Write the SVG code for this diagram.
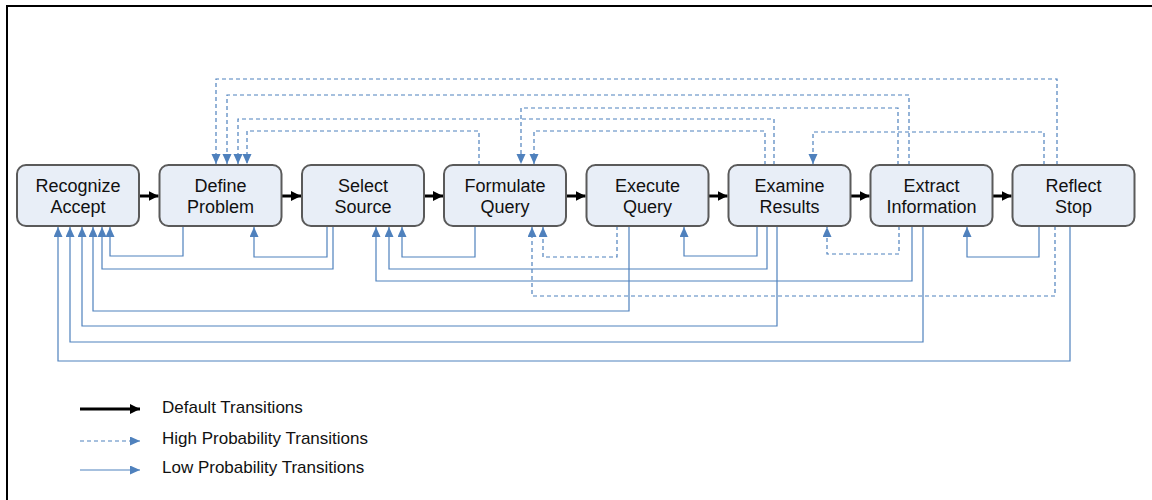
<svg xmlns="http://www.w3.org/2000/svg" width="1152" height="500" viewBox="0 0 1152 500">
<style>
.node rect{fill:#E8EEF7;stroke:#5A5A5A;stroke-width:2}
.node text{font-family:"Liberation Sans",Arial,sans-serif;font-size:18px;fill:#111;text-anchor:middle}
.def{fill:none;stroke:#000;stroke-width:3;marker-end:url(#ab)}
.hi{fill:none;stroke:#4F81BD;stroke-width:1.2;stroke-dasharray:4 3;marker-end:url(#au)}
.lo{fill:none;stroke:#4F81BD;stroke-width:1.2;marker-end:url(#au)}
.leg{font-family:"Liberation Sans",Arial,sans-serif;font-size:17px;fill:#111}
</style>
<defs>
<marker id="ab" markerUnits="userSpaceOnUse" markerWidth="11" markerHeight="11" refX="10" refY="5" orient="auto"><path d="M0,0 L10,5 L0,10 z" fill="#000"/></marker>
<marker id="au" markerUnits="userSpaceOnUse" markerWidth="11" markerHeight="10" refX="10" refY="4.5" orient="auto"><path d="M0,0 L10,4.5 L0,9 z" fill="#4F81BD"/></marker>
</defs>
<rect width="1152" height="500" fill="#fff"/>
<path d="M7,500 V6 H1152" fill="none" stroke="#000" stroke-width="2"/>
<g id="connectors">
<path class="def" d="M139,196 H158.5"/>
<path class="def" d="M281.5,196 H301"/>
<path class="def" d="M424,196 H443"/>
<path class="def" d="M566,196 H585.5"/>
<path class="def" d="M708.5,196 H727.5"/>
<path class="def" d="M850.5,196 H869.5"/>
<path class="def" d="M992.5,196 H1011.5"/>
<path class="hi" d="M1057,165 V79 H216 V164"/>
<path class="hi" d="M909,165 V95 H227 V164"/>
<path class="hi" d="M774,165 V119 H238 V164"/>
<path class="hi" d="M479,165 V131 H247 V164"/>
<path class="hi" d="M898,165 V108 H521 V164"/>
<path class="hi" d="M765,165 V131 H534 V164"/>
<path class="hi" d="M1044,165 V132 H813 V164"/>
<path class="hi" d="M617,226 V257 H543 V227"/>
<path class="hi" d="M1055,226 V296 H532 V227"/>
<path class="hi" d="M899,226 V254 H827 V227"/>
<path class="lo" d="M183,226 V256 H110 V227"/>
<path class="lo" d="M333,226 V269 H102 V227"/>
<path class="lo" d="M629,226 V311 H93 V227"/>
<path class="lo" d="M777,226 V326 H82 V227"/>
<path class="lo" d="M923,226 V342 H70 V227"/>
<path class="lo" d="M1070,226 V361 H58 V227"/>
<path class="lo" d="M327,226 V257 H254 V227"/>
<path class="lo" d="M475,226 V257 H402 V227"/>
<path class="lo" d="M767,226 V269 H389 V227"/>
<path class="lo" d="M912,226 V281 H376 V227"/>
<path class="lo" d="M757,226 V256 H684 V227"/>
<path class="lo" d="M1039,226 V257 H967 V227"/>
</g>
<g id="n1" class="node"><rect x="17" y="165" width="122" height="61" rx="9"/><text x="78" y="191.5">Recognize</text><text x="78" y="212.5">Accept</text></g>
<g id="n2" class="node"><rect x="159.5" y="165" width="122" height="61" rx="9"/><text x="220.5" y="191.5">Define</text><text x="220.5" y="212.5">Problem</text></g>
<g id="n3" class="node"><rect x="302" y="165" width="122" height="61" rx="9"/><text x="363" y="191.5">Select</text><text x="363" y="212.5">Source</text></g>
<g id="n4" class="node"><rect x="444" y="165" width="122" height="61" rx="9"/><text x="505" y="191.5">Formulate</text><text x="505" y="212.5">Query</text></g>
<g id="n5" class="node"><rect x="586.5" y="165" width="122" height="61" rx="9"/><text x="647.5" y="191.5">Execute</text><text x="647.5" y="212.5">Query</text></g>
<g id="n6" class="node"><rect x="728.5" y="165" width="122" height="61" rx="9"/><text x="789.5" y="191.5">Examine</text><text x="789.5" y="212.5">Results</text></g>
<g id="n7" class="node"><rect x="870.5" y="165" width="122" height="61" rx="9"/><text x="931.5" y="191.5">Extract</text><text x="931.5" y="212.5">Information</text></g>
<g id="n8" class="node"><rect x="1012.5" y="165" width="122" height="61" rx="9"/><text x="1073.5" y="191.5">Reflect</text><text x="1073.5" y="212.5">Stop</text></g>
<g id="legend">
<path class="def" d="M80,409 H140"/>
<path class="hi" d="M80,441 H140"/>
<path class="lo" d="M80,470 H140"/>
<text class="leg" x="162" y="413">Default Transitions</text>
<text class="leg" x="162" y="444">High Probability Transitions</text>
<text class="leg" x="162" y="473">Low Probability Transitions</text>
</g>
</svg>
